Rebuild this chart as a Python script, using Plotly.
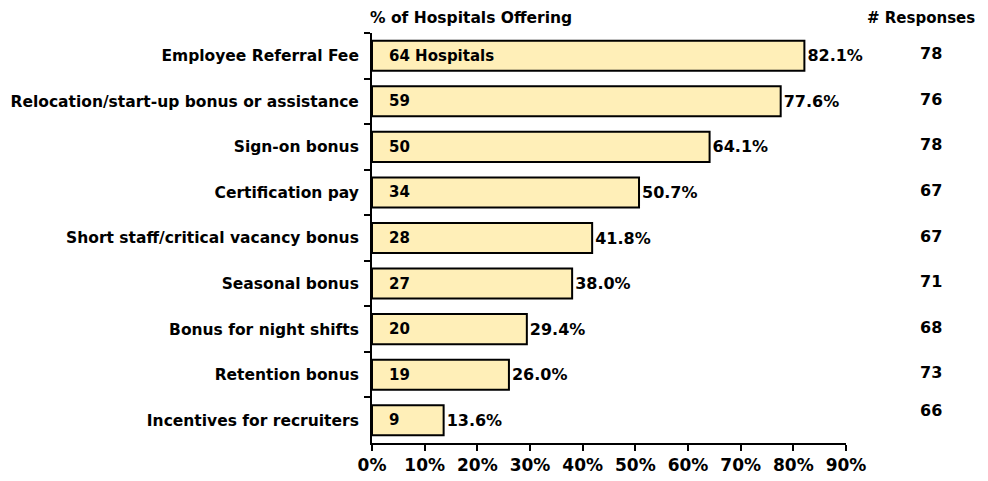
import plotly.graph_objects as go

categories = ["Employee Referral Fee", "Relocation/start-up bonus or assistance", "Sign-on bonus",
              "Certification pay", "Short staff/critical vacancy bonus", "Seasonal bonus",
              "Bonus for night shifts", "Retention bonus", "Incentives for recruiters"]
pct = [82.1, 77.6, 64.1, 50.7, 41.8, 38.0, 29.4, 26.0, 13.6]
hospitals = [64, 59, 50, 34, 28, 27, 20, 19, 9]
responses = [78, 76, 78, 67, 67, 71, 68, 73, 66]
x_ticks = [0, 10, 20, 30, 40, 50, 60, 70, 80, 90]

FONT = "DejaVu Sans"
fig = go.Figure()
fig.add_trace(go.Bar(
    y=categories, x=pct, orientation="h",
    marker=dict(color="#FFEFB8", line=dict(color="black", width=2)),
    width=0.66,
    text=[f"{v:.1f}%" for v in pct], textposition="outside",
    textfont=dict(family=FONT, size=16, color="black", weight="bold"),
    cliponaxis=False,
))

for i, (c, h) in enumerate(zip(categories, hospitals)):
    label = f"{h} Hospitals" if i == 0 else str(h)
    fig.add_annotation(x=0, y=c, text=label, showarrow=False, xanchor="left", xshift=15,
                       font=dict(family=FONT, size=15, color="black", weight="bold"))
for i, (c, r) in enumerate(zip(categories, responses)):
    ys = 2 if i < 8 else 10
    fig.add_annotation(x=1, xref="paper", y=c, text=str(r), showarrow=False, xanchor="center",
                       xshift=85, yshift=ys,
                       font=dict(family=FONT, size=16, color="black", weight="bold"))

fig.add_annotation(x=0, xref="paper", y=1, yref="paper", yanchor="bottom", xanchor="left",
                   text="% of Hospitals Offering", showarrow=False, yshift=4, xshift=-4,
                   font=dict(family=FONT, size=15.5, color="black", weight="bold"))
fig.add_annotation(x=1, xref="paper", y=1, yref="paper", yanchor="bottom", xanchor="center",
                   text="# Responses", showarrow=False, yshift=4, xshift=75,
                   font=dict(family=FONT, size=15, color="black", weight="bold"))

fig.update_layout(
    width=988, height=481, margin=dict(l=364, r=150, t=25, b=46),
    plot_bgcolor="white", paper_bgcolor="white", showlegend=False,
    xaxis=dict(range=[0, 90], tickvals=x_ticks, ticktext=[f"{v}%" for v in x_ticks],
               showgrid=False, zeroline=False, showline=True, linecolor="black", linewidth=2,
               ticks="outside", ticklen=6, tickcolor="black", tickwidth=2, automargin=False,
               tickfont=dict(family=FONT, size=17, color="black", weight="bold")),
    yaxis=dict(autorange="reversed", showgrid=False, showline=True, linecolor="black", linewidth=2,
               ticks="outside", tickson="boundaries", ticklen=6, tickcolor="black", tickwidth=2,
               ticklabelstandoff=8, automargin=False,
               tickfont=dict(family=FONT, size=15.5, color="black", weight="bold")),
)
fig.write_html("out.html")
